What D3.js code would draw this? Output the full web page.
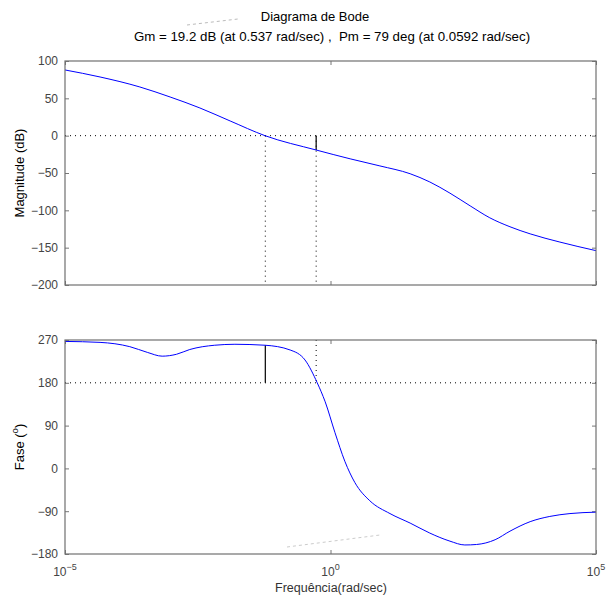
<!DOCTYPE html>
<html><head><meta charset="utf-8">
<script src="https://cdn.jsdelivr.net/npm/d3@7"></script>
<style>body{margin:0;background:#fff}svg{display:block}text{font-family:"Liberation Sans",Helvetica,Arial,sans-serif}</style>
</head><body><svg id="c" width="606" height="596"></svg>
<script>
// ---- data (log10 of frequency in rad/sec) ----
const magLogW = [-5,-4.34,-3.59,-3.02,-2.46,-1.89,-1.234,-0.27,0.37,0.93,1.5,1.87,2.25,2.63,3.0,3.38,3.76,4.32,5];
const magDb   = [88,78.6,65.2,51.8,37.1,19.7,0,-19.2,-31,-40.5,-51,-62,-77,-94,-110,-122,-131.5,-142.5,-154];
const phLogW  = [-5,-4.34,-3.78,-3.45,-3.17,-2.9,-2.65,-2.18,-1.8,-1.234,-0.76,-0.48,-0.25,-0.1,0.085,0.27,0.46,0.74,1.12,1.5,1.87,2.25,2.53,2.75,3.1,3.38,3.76,4.13,4.51,5];
const phDeg   = [267,265,256,244,236,240,250,259,261,259,249,228,180,140,75,15,-30,-68,-95,-115,-136,-153,-161,-160,-150,-132,-112,-101,-95,-92];
const magTicks = [100,50,0,-50,-100,-150,-200];
const phTicks  = [270,180,90,0,-90,-180];
const xTickExp = [-5,0,5];
const title1 = "Diagrama de Bode";
const title2 = "Gm = 19.2 dB (at 0.537 rad/sec) ,\u00a0 Pm = 79 deg (at 0.0592 rad/sec)";
const gm = {w: 0.537, db: -19.2};
const pm = {w: 0.0592, deg: 259};

const svg = d3.select("#c");
const L = 65, R = 596;
const x = d3.scaleLog().domain([1e-5,1e5]).range([L,R]);
const yM = d3.scaleLinear().domain([-200,100]).range([285,61]);
const yP = d3.scaleLinear().domain([-180,270]).range([554,340]);
const fmt = v => v < 0 ? "\u2212" + Math.abs(v) : String(v);

function panel(y, ticks) {
  const g = svg.append("g");
  const [b, t] = y.range();
  g.append("g").attr("transform",`translate(${L},0)`)
    .call(d3.axisLeft(y).tickValues(ticks).tickSize(-4).tickPadding(7).tickFormat(fmt))
    .call(a=>{a.select(".domain").remove();a.selectAll("line").attr("stroke","#777");
      a.selectAll("text").attr("fill","#444").style("font-size","12px").style("font-family","Liberation Sans, Helvetica, Arial");});
  g.append("g").attr("transform",`translate(${R},0)`)
    .call(d3.axisRight(y).tickValues(ticks).tickSize(-4).tickFormat(""))
    .call(a=>{a.select(".domain").remove();a.selectAll("line").attr("stroke","#777");});
  g.append("g").attr("transform",`translate(0,${b})`)
    .call(d3.axisBottom(x).tickValues(xTickExp.map(e=>Math.pow(10,e))).tickSize(-4).tickFormat(""))
    .call(a=>{a.select(".domain").remove();a.selectAll("line").attr("stroke","#777");});
  g.append("g").attr("transform",`translate(0,${t})`)
    .call(d3.axisTop(x).tickValues(xTickExp.map(e=>Math.pow(10,e))).tickSize(-4).tickFormat(""))
    .call(a=>{a.select(".domain").remove();a.selectAll("line").attr("stroke","#777");});
  return g;
}

const gMag = panel(yM, magTicks);
const gPh = panel(yP, phTicks);

const dot = "1,4";
gMag.append("line").attr("x1",L).attr("x2",R).attr("y1",yM(0)).attr("y2",yM(0))
  .attr("stroke","#000").attr("stroke-dasharray",dot);
gMag.append("line").attr("x1",x(pm.w)).attr("x2",x(pm.w)).attr("y1",yM(0)).attr("y2",yM(-200))
  .attr("stroke","#000").attr("stroke-dasharray",dot);
gMag.append("line").attr("x1",x(gm.w)).attr("x2",x(gm.w)).attr("y1",yM(0)).attr("y2",yM(-200))
  .attr("stroke","#000").attr("stroke-dasharray",dot);
gMag.append("line").attr("x1",x(gm.w)).attr("x2",x(gm.w)).attr("y1",yM(0)).attr("y2",yM(gm.db))
  .attr("stroke","#000").attr("stroke-width",1.2);
const lineM = d3.line().x((d,i)=>x(Math.pow(10,magLogW[i]))).y(d=>yM(d)).curve(d3.curveMonotoneX);
gMag.append("path").attr("d",lineM(magDb)).attr("fill","none").attr("stroke","#0000ff").attr("stroke-width",1);

gPh.append("line").attr("x1",L).attr("x2",R).attr("y1",yP(180)).attr("y2",yP(180))
  .attr("stroke","#000").attr("stroke-dasharray",dot);
gPh.append("line").attr("x1",x(gm.w)).attr("x2",x(gm.w)).attr("y1",yP(270)).attr("y2",yP(180))
  .attr("stroke","#000").attr("stroke-dasharray",dot);
gPh.append("line").attr("x1",x(pm.w)).attr("x2",x(pm.w)).attr("y1",yP(180)).attr("y2",yP(pm.deg))
  .attr("stroke","#000").attr("stroke-width",1.2);
const lineP = d3.line().x((d,i)=>x(Math.pow(10,phLogW[i]))).y(d=>yP(d)).curve(d3.curveMonotoneX);
gPh.append("path").attr("d",lineP(phDeg)).attr("fill","none").attr("stroke","#0000ff").attr("stroke-width",1);

[[61,285],[340,554]].forEach(([t,b])=>{
  svg.append("rect").attr("x",L).attr("y",t).attr("width",R-L).attr("height",b-t)
    .attr("fill","none").attr("stroke","#707070").attr("stroke-width",1.2);
});

xTickExp.forEach(e=>{
  const t = svg.append("text").attr("x",x(Math.pow(10,e))).attr("y",576).attr("text-anchor","middle")
    .attr("fill","#444").style("font-size","12px");
  t.append("tspan").text("10");
  t.append("tspan").attr("dy",-6).style("font-size","9px").text(e<0?"\u2212"+Math.abs(e):String(e));
});

svg.append("text").attr("x",315).attr("y",21).attr("text-anchor","middle").style("font-size","13px").text(title1);
svg.append("text").attr("x",332).attr("y",41).attr("text-anchor","middle").style("font-size","13.3px").text(title2);
svg.append("text").attr("transform","translate(24,173) rotate(-90)").attr("text-anchor","middle").style("font-size","13px").text("Magnitude (dB)");
const fl = svg.append("text").attr("transform","translate(24,447) rotate(-90)").attr("text-anchor","middle").style("font-size","13px");
fl.append("tspan").text("Fase (");
fl.append("tspan").attr("dy",-6).style("font-size","9.5px").text("o");
fl.append("tspan").attr("dy",6).text(")");
svg.append("text").attr("x",331).attr("y",592).attr("text-anchor","middle").attr("fill","#333").style("font-size","12.5px").text("Frequência(rad/sec)");

svg.append("line").attr("x1",187).attr("y1",25).attr("x2",238).attr("y2",19).attr("stroke","#bbb").attr("stroke-dasharray","3,3");
svg.append("line").attr("x1",287).attr("y1",547).attr("x2",380).attr("y2",535).attr("stroke","#ccc").attr("stroke-dasharray","3,3");
</script></body></html>
